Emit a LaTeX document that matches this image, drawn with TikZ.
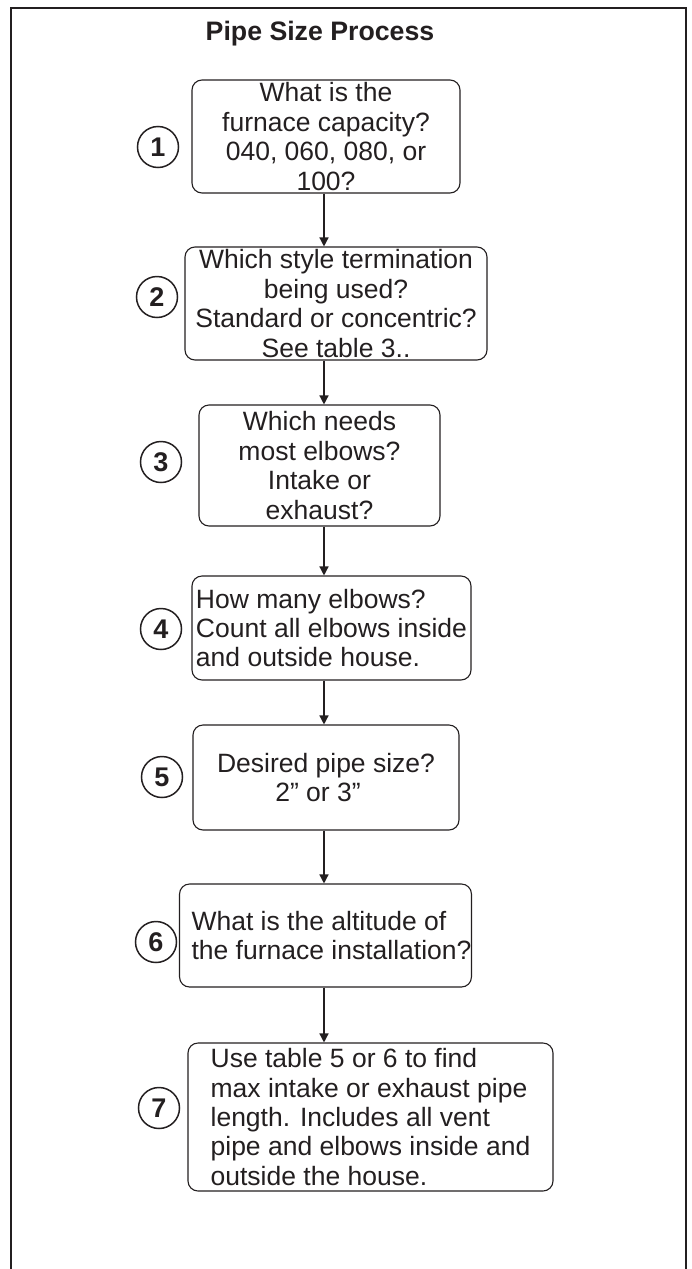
\documentclass[tikz,border=0pt]{standalone}
\usepackage{fontspec}
\setmainfont{Liberation Sans}
\usepackage{xcolor}
\usepackage{tikz}
\usetikzlibrary{arrows.meta, positioning}
\definecolor{pipeink}{RGB}{35, 31, 32}

\begin{document}
\begin{tikzpicture}[x=1pt, y=-1pt,
    stepbox/.style={draw=pipeink, line width=1.1pt, rounded corners=10pt, inner sep=0pt,
        text=pipeink, font=\fontsize{26.5}{29.4}\selectfont},
    stepnum/.style={circle, draw=pipeink, line width=1.5pt, minimum size=41pt, inner sep=0pt,
        text=pipeink, font=\fontsize{27}{27}\selectfont\bfseries},
    flowarrow/.style={draw=pipeink, line width=1.4pt, -{Triangle[length=9pt, width=9pt]}}]
    \useasboundingbox (0,0) rectangle (691,1269);
    \draw[pipeink, line width=2pt] (11,1269) -- (11,8) -- (686,8) -- (686,1269);
    \node[text=pipeink, font=\fontsize{26.7}{30}\selectfont\bfseries] (title) at (320,34) {Pipe Size Process};
    \coordinate (spine) at (324,0);

    \node[stepbox, minimum width=268pt, minimum height=113pt, align=center] (box1) at (326,136.5)
        {What is the\\furnace capacity?\\040, 060, 080, or\\100?};
    \node[stepbox, minimum width=302pt, minimum height=113pt, align=center] (box2) at (336,303.5)
        {Which style termination\\being used?\\Standard or concentric?\\See table 3..};
    \node[stepbox, minimum width=241pt, minimum height=121pt, align=center] (box3) at (319.5,465.5)
        {Which needs\\most elbows?\\Intake or\\exhaust?};
    \node[stepbox, minimum width=279pt, minimum height=104pt, align=left] (box4) at (331.5,628)
        {How many elbows?\\Count all elbows inside\\and outside house.};
    \node[stepbox, minimum width=266pt, minimum height=105pt, align=center] (box5) at (326,777.5)
        {Desired pipe size?\\2” or 3”\hspace*{16pt}};
    \node[stepbox, minimum width=283pt, minimum height=103pt, align=left] (box6) at (325.5,935.5)
        {\hspace*{12pt}What is the altitude of\\\hspace*{12pt}the furnace installation?};
    \node[stepbox, minimum width=365pt, minimum height=148pt, align=left] (box7) at (370.5,1117)
        {Use table 5 or 6 to find\\max intake or exhaust pipe\\length. Includes all vent\\pipe and elbows inside and\\outside the house.};

    \node[stepnum] (num1) at (158,147) {1};
    \node[stepnum] (num2) at (157,297) {2};
    \node[stepnum] (num3) at (161,462) {3};
    \node[stepnum] (num4) at (161,629) {4};
    \node[stepnum] (num5) at (162,777) {5};
    \node[stepnum] (num6) at (156,942) {6};
    \node[stepnum] (num7) at (159,1108) {7};

    \foreach \from/\to in {box1/box2, box2/box3, box3/box4, box4/box5, box5/box6, box6/box7}
        \draw[flowarrow] (\from.south -| spine) -- (\to.north -| spine);
\end{tikzpicture}
\end{document}
